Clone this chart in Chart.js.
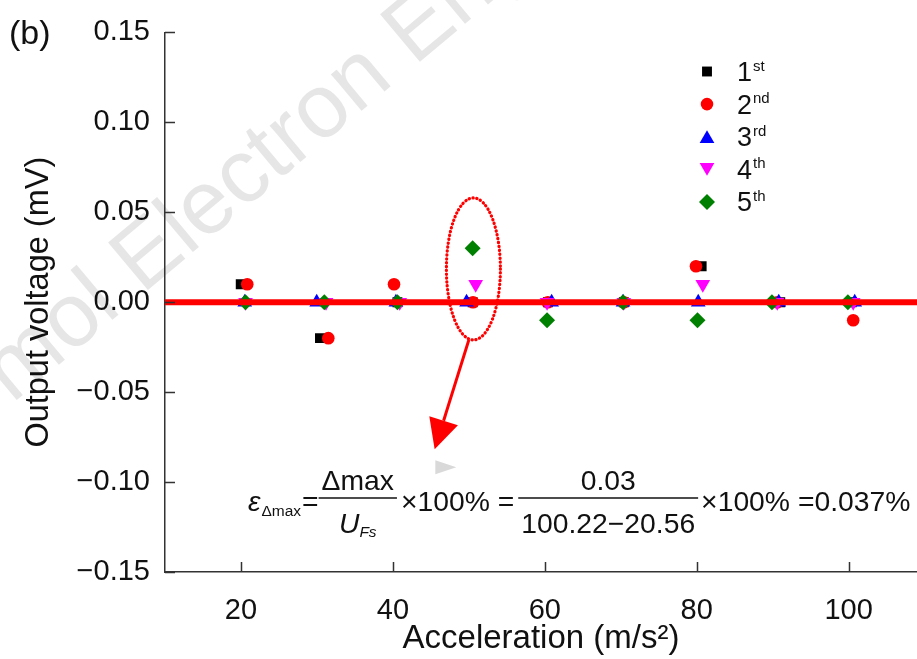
<!DOCTYPE html>
<html><head><meta charset="utf-8">
<script src="https://cdn.jsdelivr.net/npm/chart.js@4/dist/chart.umd.min.js"></script>
<style>html,body{margin:0;padding:0;background:#fff;overflow:hidden}#wrap{width:917px;height:659px;position:relative}</style>
</head><body><div id="wrap"><canvas id="c" width="917" height="659"></canvas></div>
<script>
// ---------------- data ----------------
const seriesLabels = ['1st', '2nd', '3rd', '4th', '5th'];
const x1 = [19.97, 30.4, 40.6, 50.5, 60.4, 70.4, 80.65, 91.0, 100.4];
const y1 = [0.01, -0.02, 0, 0, 0, 0, 0.02, 0, 0];
const x2 = [20.83, 31.5, 40.15, 50.55, 60.4, 70.4, 79.9, 90.6, 100.6];
const y2 = [0.01, -0.02, 0.01, 0, 0, 0, 0.02, 0, -0.01];
const x3 = [20.5, 29.97, 40.4, 49.7, 60.9, 70.3, 80.2, 90.8, 100.8];
const y3 = [0, 0, 0, 0, 0, 0, 0, 0, 0];
const x4 = [20.6, 31.2, 40.9, 50.9, 60.3, 70.4, 80.8, 90.6, 100.6];
const y4 = [0, 0, 0, 0.01, 0, 0, 0.01, 0, 0];
const x5 = [20.6, 30.97, 40.6, 50.5, 60.3, 70.3, 80.1, 89.9, 99.9];
const y5 = [0, 0, 0, 0.03, -0.01, 0, -0.01, 0, 0];
const fitX = [10, 109];
const fitY = [0, 0];
const xTickValues = [20, 40, 60, 80, 100];
const yTickValues = [-0.15, -0.10, -0.05, 0, 0.05, 0.10, 0.15];
const xMin = 10, xMax = 109, yMin = -0.15, yMax = 0.15;

// ---------------- styles ----------------
const FONT = "'Liberation Sans', Arial, Helvetica, sans-serif";
Chart.defaults.font.family = FONT;
const seriesX = [x1, x2, x3, x4, x5];
const seriesY = [y1, y2, y3, y4, y5];
const markerStyles = [
  {style: 'rect', r: 7, rot: 0, color: '#000000'},
  {style: 'circle', r: 6.3, rot: 0, color: '#ff0000'},
  {style: 'triangle', r: 8.5, rot: 0, color: '#0000ff'},
  {style: 'triangle', r: 8.5, rot: 180, color: '#ff00ff'},
  {style: 'rectRot', r: 8, rot: 0, color: '#008000'}
];

const datasets = seriesLabels.map((lab, i) => ({
  label: lab,
  data: seriesX[i].map((v, k) => ({x: v, y: seriesY[i][k]})),
  pointStyle: markerStyles[i].style,
  pointRadius: markerStyles[i].r,
  pointRotation: markerStyles[i].rot,
  backgroundColor: markerStyles[i].color,
  borderColor: markerStyles[i].color,
  borderWidth: 0,
  order: 6 - i
}));
datasets.push({
  type: 'line', label: 'fit',
  data: fitX.map((v, k) => ({x: v, y: fitY[k]})),
  borderColor: '#ff0000', borderWidth: 6, pointRadius: 0, showLine: true, order: 0
});

function fmtY(v) {
  const s = Math.abs(v).toFixed(2);
  return (v < -1e-9 ? '\u2212' : '') + s;
}

function drawMarker(ctx, m, x, y) {
  ctx.save();
  ctx.fillStyle = m.color; ctx.strokeStyle = m.color;
  Chart.helpers.drawPoint(ctx, {pointStyle: m.style, radius: m.r, rotation: m.rot, borderWidth: 0}, x, y);
  ctx.restore();
}

const overlay = {
  id: 'overlay',
  beforeDraw(chart) {
    const ctx = chart.ctx;
    ctx.save();
    ctx.fillStyle = '#ffffff';
    ctx.fillRect(0, 0, chart.width, chart.height);
    // watermark
    ctx.translate(12, 404);
    ctx.rotate(-40 * Math.PI / 180);
    ctx.font = '90px ' + FONT;
    ctx.fillStyle = 'rgba(190,190,190,0.38)';
    ctx.textBaseline = 'alphabetic';
    ctx.fillText('mol Electron Eng', 0, 0);
    ctx.restore();
  },
  afterDraw(chart) {
    const ctx = chart.ctx;
    const xs = chart.scales.x, ys = chart.scales.y;
    const ca = chart.chartArea;
    ctx.save();
    // inward tick marks
    ctx.strokeStyle = '#333'; ctx.lineWidth = 1.5;
    ctx.beginPath();
    xs.ticks.forEach(t => { const p = Math.round(xs.getPixelForValue(t.value)) + 0.5; ctx.moveTo(p, ca.bottom); ctx.lineTo(p, ca.bottom - 10); });
    ys.ticks.forEach(t => { const p = Math.round(ys.getPixelForValue(t.value)) + 0.5; ctx.moveTo(ca.left, p); ctx.lineTo(ca.left + 10, p); });
    ctx.stroke();

    // panel label
    ctx.fillStyle = '#111';
    ctx.font = '34px ' + FONT;
    ctx.textBaseline = 'alphabetic'; ctx.textAlign = 'left';
    ctx.fillText('(b)', 9, 44);

    // legend
    const lx = 707, ly0 = 71.5, dy = 32.6;
    seriesLabels.forEach((lab, i) => {
      const m = markerStyles[i];
      let yy = ly0 + i * dy;
      let my = yy;
      if (m.style === 'triangle') my = yy + (m.rot ? -m.r / 4 : m.r / 4);
      drawMarker(ctx, m, lx, my);
      ctx.fillStyle = '#111';
      ctx.font = '27px ' + FONT;
      ctx.fillText(lab.charAt(0), 737, yy + 9.5);
      const w = ctx.measureText(lab.charAt(0)).width;
      ctx.font = '15px ' + FONT;
      ctx.fillText(lab.slice(1), 737 + w + 1, yy - 1);
    });

    // annotation: dotted ellipse + arrow
    const ecx = xs.getPixelForValue(50.6), ecy = ys.getPixelForValue(0.0185);
    ctx.strokeStyle = '#ff0000'; ctx.lineWidth = 3.2; ctx.lineCap = 'round';
    ctx.setLineDash([0.3, 3.6]);
    ctx.beginPath(); ctx.ellipse(ecx, ecy, 27, 71, 0, 0, Math.PI * 2); ctx.stroke();
    ctx.setLineDash([]);
    const sx = xs.getPixelForValue(50.0), sy = ecy + 71;
    const tx = xs.getPixelForValue(45.5), ty = ys.getPixelForValue(-0.0818);
    const ang = Math.atan2(ty - sy, tx - sx);
    const hl = 30, hw = 15;
    const bx = tx - hl * Math.cos(ang), by = ty - hl * Math.sin(ang);
    ctx.lineWidth = 3; ctx.lineCap = 'butt';
    ctx.beginPath(); ctx.moveTo(sx, sy); ctx.lineTo(bx, by); ctx.stroke();
    ctx.fillStyle = '#ff0000';
    ctx.beginPath();
    ctx.moveTo(tx, ty);
    ctx.lineTo(bx + hw * Math.sin(ang), by - hw * Math.cos(ang));
    ctx.lineTo(bx - hw * Math.sin(ang), by + hw * Math.cos(ang));
    ctx.closePath(); ctx.fill();
    // small grey pointer
    const gx = xs.getPixelForValue(46.9), gy = ys.getPixelForValue(-0.0917);
    ctx.fillStyle = '#d9d9d9';
    ctx.beginPath(); ctx.moveTo(gx - 10, gy - 7); ctx.lineTo(gx + 11, gy); ctx.lineTo(gx - 10, gy + 7); ctx.closePath(); ctx.fill();

    // formula
    const F = 28.3, S = 15.5;
    const base = 511, numB = 490, denB = 533, barY = 498;
    ctx.fillStyle = '#111'; ctx.strokeStyle = '#111'; ctx.lineWidth = 1.3;
    let x = 248;
    const txt = (s, f, xx, yy, align) => { ctx.font = f; ctx.textAlign = align || 'left'; ctx.fillText(s, xx, yy); return ctx.measureText(s).width; };
    x += txt('\u03b5', 'italic ' + F + 'px ' + FONT, x, base);
    x += txt('\u0394max', S + 'px ' + FONT, x + 1, base + 5) + 2;
    x += txt('=', F + 'px ' + FONT, x, base);
    // fraction 1
    ctx.font = F + 'px ' + FONT;
    const wn1 = ctx.measureText('\u0394max').width;
    const f1w = wn1 + 6;
    const c1 = x + f1w / 2;
    txt('\u0394max', F + 'px ' + FONT, c1, numB, 'center');
    ctx.beginPath(); ctx.moveTo(x, barY); ctx.lineTo(x + f1w, barY); ctx.stroke();
    ctx.font = 'italic ' + F + 'px ' + FONT; const wu = ctx.measureText('U').width;
    ctx.font = 'italic ' + S + 'px ' + FONT; const wfs = ctx.measureText('Fs').width;
    const ux = c1 - (wu + wfs) / 2;
    txt('U', 'italic ' + F + 'px ' + FONT, ux, denB);
    txt('Fs', 'italic ' + S + 'px ' + FONT, ux + wu, denB + 4);
    x += f1w + 4;
    x += txt('\u00d7100% =', F + 'px ' + FONT, x, base) + 4;
    // fraction 2
    ctx.font = F + 'px ' + FONT;
    const wd2 = ctx.measureText('100.22\u221220.56').width;
    const f2w = wd2 + 6;
    const c2 = x + f2w / 2;
    txt('0.03', F + 'px ' + FONT, c2, numB, 'center');
    ctx.beginPath(); ctx.moveTo(x, barY); ctx.lineTo(x + f2w, barY); ctx.stroke();
    txt('100.22\u221220.56', F + 'px ' + FONT, c2, denB, 'center');
    x += f2w + 3;
    txt('\u00d7100% =0.037%', F + 'px ' + FONT, x, base);
    ctx.restore();
  }
};

new Chart(document.getElementById('c').getContext('2d'), {
  type: 'scatter',
  data: {datasets},
  options: {
    responsive: false, animation: false, devicePixelRatio: 1,
    layout: {autoPadding: false, padding: {left: 0, right: 0, top: 27, bottom: 0}},
    plugins: {legend: {display: false}, tooltip: {enabled: false}},
    scales: {
      x: {
        type: 'linear', min: xMin, max: xMax,
        afterBuildTicks: s => { s.ticks = xTickValues.map(v => ({value: v})); },
        afterFit: s => { s.height = 87; },
        grid: {display: false, drawTicks: false, tickLength: 0},
        border: {display: true, color: '#333', width: 1.5},
        ticks: {padding: 22, color: '#111', font: {size: 29}, callback: v => String(v), maxRotation: 0, autoSkip: false},
        title: {display: true, text: 'Acceleration (m/s\u00b2)', color: '#111', font: {size: 33}, padding: {top: 0, bottom: 0}}
      },
      y: {
        type: 'linear', min: yMin, max: yMax,
        afterBuildTicks: s => { s.ticks = yTickValues.map(v => ({value: v})); },
        afterFit: s => { s.width = 165; },
        grid: {display: false, drawTicks: false, tickLength: 0},
        border: {display: true, color: '#333', width: 1.5},
        ticks: {padding: 15, color: '#111', font: {size: 29}, callback: v => fmtY(v), autoSkip: false},
        title: {display: true, text: 'Output voltage (mV)', color: '#111', font: {size: 32.5}, padding: {top: 20, bottom: 0}}
      }
    }
  },
  plugins: [overlay]
});
</script></body></html>
